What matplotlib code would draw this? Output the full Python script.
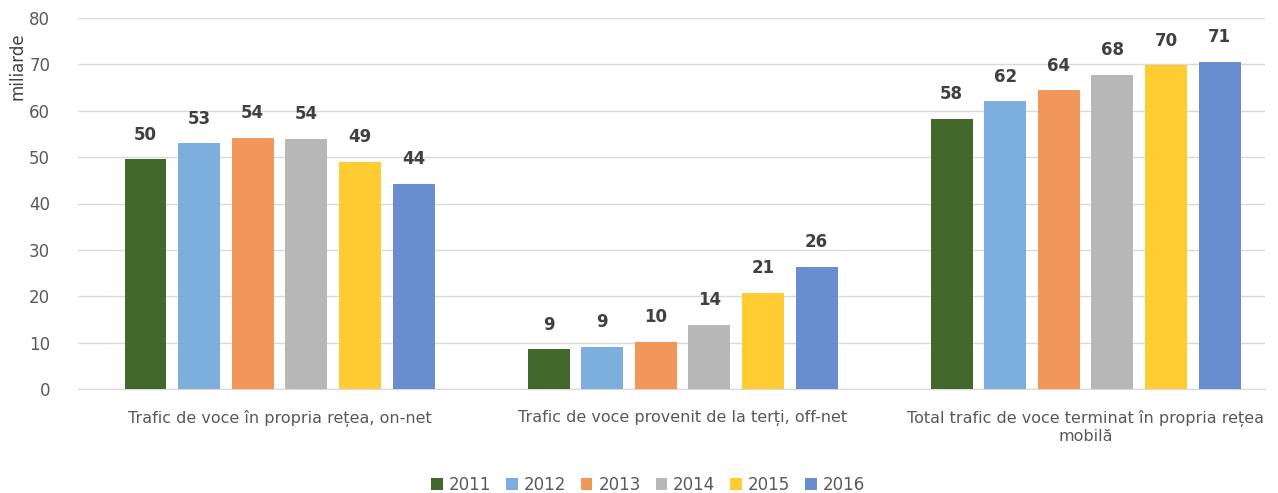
import matplotlib.pyplot as plt
import numpy as np

# Voice traffic data (miliarde)
categories = ['Trafic de voce în propria rețea, on-net',
              'Trafic de voce provenit de la terți, off-net',
              'Total trafic de voce terminat în propria rețea\nmobilă']
years = ['2011', '2012', '2013', '2014', '2015', '2016']
values = [
    [49.6, 8.6, 58.3],
    [53.0, 9.1, 62.0],
    [54.2, 10.2, 64.5],
    [54.0, 13.9, 67.8],
    [49.0, 20.8, 69.9],
    [44.3, 26.4, 70.6],
]
labels = [
    ['50', '9', '58'],
    ['53', '9', '62'],
    ['54', '10', '64'],
    ['54', '14', '68'],
    ['49', '21', '70'],
    ['44', '26', '71'],
]
colors = ['#43682b', '#7cafdd', '#f1975a', '#b7b7b7', '#ffcd33', '#698ed0']

fig = plt.figure(figsize=(12.78, 4.93), dpi=100)
ax = fig.add_axes([78 / 1278, 1 - 389 / 493, (1265 - 78) / 1278, (389 - 18) / 493])

x = np.arange(len(categories))
step = 0.133
width = 0.104
for i, yr in enumerate(years):
    pos = x + (i - 2.5) * step
    bars = ax.bar(pos, values[i], width, color=colors[i], label=yr, zorder=3)
    for b, lab in zip(bars, labels[i]):
        ax.text(b.get_x() + b.get_width() / 2, b.get_height() + 3.3, lab,
                ha='center', va='bottom', fontsize=12, fontweight='bold', color='#404040')

ax.set_xlim(-0.5, 2.445)
ax.set_ylim(0, 80)
ax.set_yticks(range(0, 81, 10))
ax.yaxis.grid(True, color='#d9d9d9', linewidth=1, zorder=0)
ax.set_xticks(x)
ax.set_xticklabels(categories, fontsize=11.5, color='#595959', va='top')
ax.tick_params(axis='x', length=0, pad=15)
ax.tick_params(axis='y', length=0, labelsize=12, labelcolor='#595959', pad=20)
for s in ['top', 'right', 'left']:
    ax.spines[s].set_visible(False)
ax.spines['bottom'].set_color('#d9d9d9')
ax.set_ylabel('miliarde', fontsize=12, color='#404040')
ax.yaxis.set_label_coords(-0.043, 0.87)

fig.legend(loc='center', bbox_to_anchor=(648 / 1278, 1 - 485 / 493), ncol=6, frameon=False,
           fontsize=12, handlelength=0.7, handleheight=0.7, handletextpad=0.35,
           columnspacing=0.9, labelcolor='#595959')

plt.savefig('out.png', dpi=100)
